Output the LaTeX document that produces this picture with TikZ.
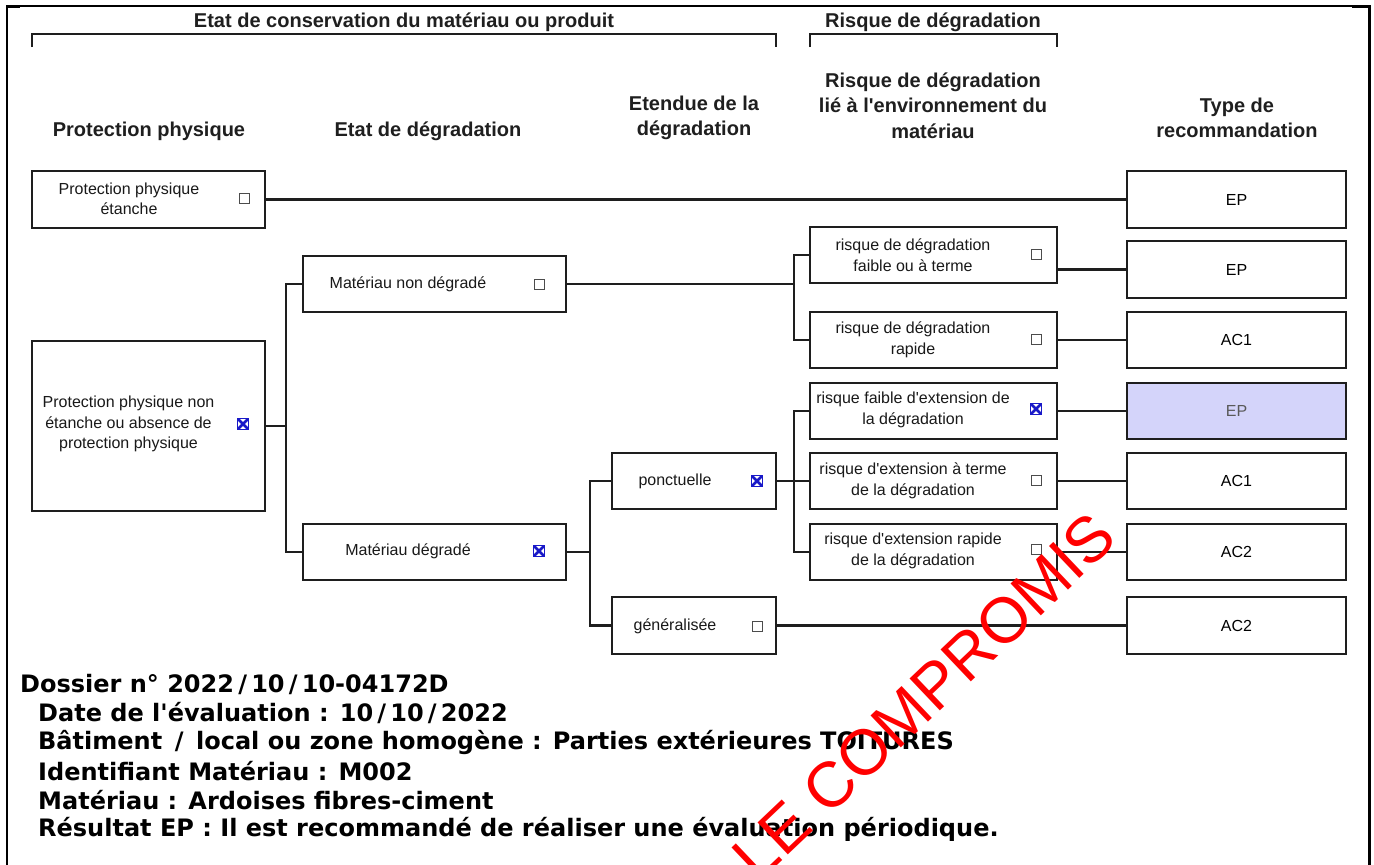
\documentclass[tikz,border=0pt]{standalone}
\usepackage{fontspec}
\setmainfont{Liberation Sans}
\newfontfamily\verd{DejaVu Sans}
\definecolor{lav}{RGB}{212,212,250}
\definecolor{xblue}{RGB}{25,25,200}
\definecolor{ln}{RGB}{30,30,30}
\newcommand\ap{\textquotesingle}
\newcommand\wsl{\kern4.2pt/\kern4.2pt}
\begin{document}
\begin{tikzpicture}[x=1pt,y=-1pt,
 box/.style={draw=ln, line width=2.2pt, inner sep=0pt},
 lbox/.style={box, minimum width=247pt, minimum height=56pt},
 rbox/.style={box, minimum width=219pt, minimum height=56pt, font=\fontsize{16}{20.5}\selectfont},
 txt/.style={font=\fontsize{16}{20.5}\selectfont, align=center, inner sep=0pt, text=black!90},
 hdr/.style={font=\bfseries\fontsize{20}{25.5}\selectfont, align=center, inner sep=0pt, text=black!88},
 cb/.style={draw=black!70, line width=1pt, minimum size=10pt, inner sep=0pt},
 cbx/.style={draw=xblue, line width=1.2pt, minimum size=11.5pt, inner sep=0pt,
   path picture={\draw[xblue, line width=2.8pt]
     (path picture bounding box.south west) -- (path picture bounding box.north east)
     (path picture bounding box.north west) -- (path picture bounding box.south east);}},
 conn/.style={draw=ln, line width=2.2pt},
 brk/.style={draw=ln, line width=2pt},
 info/.style={font=\verd\bfseries\fontsize{24}{29}\selectfont, anchor=west, inner sep=0pt},
]
\useasboundingbox[fill=white] (0,0) rectangle (1374,865);

% page frame
\draw[line width=2pt] (7,865) -- (7,6) -- (1369,6);
\draw[line width=3pt] (1352,6) -- (1369,6) -- (1369,865);
\draw[line width=3pt] (7,6) -- (20,6);

% brackets and headers
\draw[brk] (32,47) |- (776,34) -- (776,47);
\draw[brk] (810,47) |- (1057,34) -- (1057,47);
\node[hdr] (h0) at (404,22) {Etat de conservation du matériau ou produit};
\node[hdr] (h1) at (933,22) {Risque de dégradation};
\node[hdr] (c1) at (149,131) {Protection physique};
\node[hdr] (c2) at (428,131) {Etat de dégradation};
\node[hdr] (c3) at (694,118) {Etendue de la\\dégradation};
\node[hdr] (c4) at (933,105.5) {Risque de dégradation\\lié à l\ap environnement du\\matériau};
\node[hdr] (c5) at (1237,118) {Type de\\recommandation};

% boxes
\node[box, minimum width=233pt, minimum height=57pt] (pp1) at (148.5,199.5) {};
\node[box, minimum width=233pt, minimum height=170pt] (pp2) at (148.5,426) {};
\node[box, minimum width=263pt, minimum height=56pt] (mnd) at (434.5,284) {};
\node[box, minimum width=263pt, minimum height=56pt] (md) at (434.5,552) {};
\node[box, minimum width=164pt, minimum height=56pt] (pon) at (694,481) {};
\node[box, minimum width=164pt, minimum height=57pt] (gen) at (694,625.5) {};
\node[lbox] (r1) at (933.5,255) {};
\node[lbox] (r2) at (933.5,340) {};
\node[lbox] (r3) at (933.5,411) {};
\node[lbox] (r4) at (933.5,481) {};
\node[lbox] (r5) at (933.5,552) {};
\node[rbox, minimum height=57pt] (t1) at (1236.5,199.5) {EP};
\node[rbox, minimum height=57pt] (t2) at (1236.5,269.5) {EP};
\node[rbox] (t3) at (1236.5,340) {AC1};
\node[rbox, fill=lav, text=black!65] (t4) at (1236.5,411) {EP};
\node[rbox] (t5) at (1236.5,481) {AC1};
\node[rbox] (t6) at (1236.5,552) {AC2};
\node[rbox, minimum height=57pt] (t7) at (1236.5,625.5) {AC2};

% box texts
\node[txt] (pp1t) at (129,199) {Protection physique\\étanche};
\node[txt] (pp2t) at (128.5,424) {Protection physique non\\étanche ou absence de\\protection physique};
\node[txt] (mndt) at (408,284) {Matériau non dégradé};
\node[txt] (mdt) at (408,551) {Matériau dégradé};
\node[txt] (pont) at (675,481) {ponctuelle};
\node[txt] (gent) at (675,626) {généralisée};
\node[txt] (r1t) at (913,255) {risque de dégradation\\faible ou à terme};
\node[txt] (r2t) at (913,340) {risque de dégradation\\rapide};
\node[txt] (r3t) at (913,410) {risque faible d\ap extension de\\la dégradation};
\node[txt] (r4t) at (913,481) {risque d\ap extension à terme\\de la dégradation};
\node[txt] (r5t) at (913,551) {risque d\ap extension rapide\\de la dégradation};

% checkboxes
\node[cb] (k1) at (244,198) {};
\node[cbx] (k2) at (243,424) {};
\node[cb] (k3) at (539,284) {};
\node[cbx] (k4) at (539,551) {};
\node[cbx] (k5) at (757,481) {};
\node[cb] (k6) at (757,626) {};
\node[cb] (k7) at (1036,254) {};
\node[cb] (k8) at (1036,339) {};
\node[cbx] (k9) at (1036,409) {};
\node[cb] (k10) at (1036,480) {};
\node[cb] (k11) at (1036,549) {};

% connectors
\coordinate (j1) at (286,426);
\coordinate (j3) at (794,284);
\coordinate (j4) at (590,552);
\coordinate (j5) at (794,481);
\draw[conn] (pp1.east) -- (t1.west);
\draw[conn] (pp2.east) -- (j1);
\draw[conn] (mnd.west) -| (j1) |- (md.west);
\draw[conn] (mnd.east) -- (j3);
\draw[conn] (r1.west) -| (j3) |- (r2.west);
\draw[conn] (t2.west) -- (t2.west -| r1.east);
\draw[conn] (r2.east) -- (t3.west);
\draw[conn] (md.east) -- (j4);
\draw[conn] (pon.west) -| (j4) |- (gen.west);
\draw[conn] (pon.east) -- (r4.west);
\draw[conn] (r3.west) -| (j5) |- (r5.west);
\draw[conn] (r3.east) -- (t4.west);
\draw[conn] (r4.east) -- (t5.west);
\draw[conn] (r5.east) -- (t6.west);
\draw[conn] (gen.east) -- (t7.west);

% info lines
\node[info] (i0) at (20,684) {Dossier n° 2022\wsl 10\wsl 10-04172D};
\node[info] (i1) at (38,713) {Date de l'évaluation : 10\wsl 10\wsl 2022};
\node[info] (i2) at (38,742) {Bâtiment \wsl{} local ou zone homogène : Parties extérieures TOITURES};
\node[info] (i3) at (38,771) {Identifiant Matériau : M002};
\node[info] (i4) at (38,800) {Matériau : Ardoises fibres-ciment};
\node[info] (i5) at (38,829) {Résultat EP : Il est recommandé de réaliser une évaluation périodique.};

% watermark
\node[font=\fontsize{64}{64}\selectfont, text=red, rotate=43.5, inner sep=0pt] (wm) at (924,696) {LE COMPROMIS};
\end{tikzpicture}
\end{document}
